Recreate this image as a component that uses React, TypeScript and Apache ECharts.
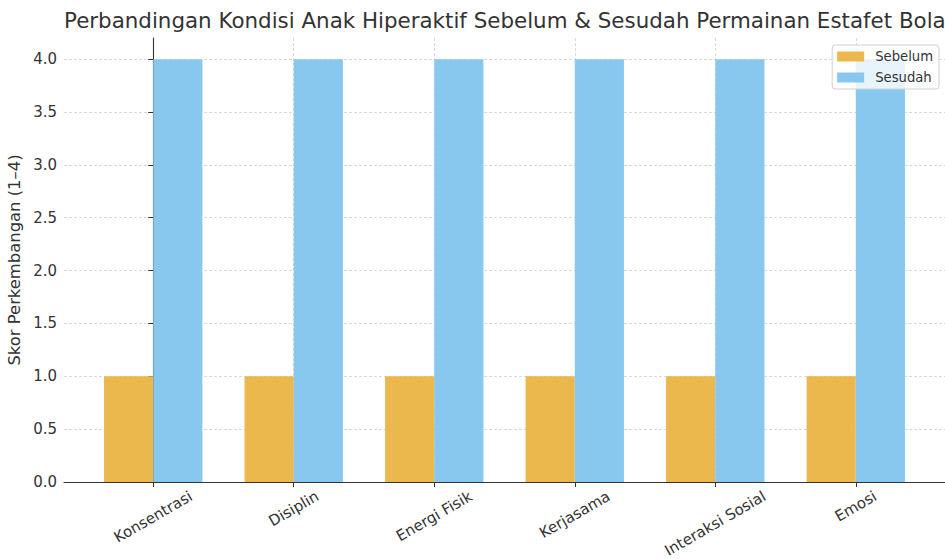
import React, { useEffect, useRef } from "react";
import * as echarts from "echarts";

const categories = ["Konsentrasi", "Disiplin", "Energi Fisik", "Kerjasama", "Interaksi Sosial", "Emosi"];
const sebelum = [1, 1, 1, 1, 1, 1];
const sesudah = [4, 4, 4, 4, 4, 4];
const yTicks = [0, 0.5, 1, 1.5, 2, 2.5, 3, 3.5, 4];
const seriesNames = ["Sebelum", "Sesudah"];
const titleText = "Perbandingan Kondisi Anak Hiperaktif Sebelum & Sesudah Permainan Estafet Bola";
const yAxisName = "Skor Perkembangan (1–4)";

const FONT = "DejaVu Sans";
const LABEL_SIZE = 15;

function measure(text: string, size: number): number {
  const c = document.createElement("canvas");
  const ctx = c.getContext("2d");
  if (!ctx) return text.length * size * 0.6;
  ctx.font = `${size}px "${FONT}"`;
  return ctx.measureText(text).width;
}

export default function App() {
  const ref = useRef<HTMLDivElement>(null);
  useEffect(() => {
    if (!ref.current) return;
    const chart = echarts.init(ref.current, null, { renderer: "svg" });
    const xTickValues = categories.map((_, i) => i);
    const rich: Record<string, any> = {};
    categories.forEach((c, i) => {
      const d = measure(c, LABEL_SIZE) / 4;
      rich["l" + i] = {
        fontSize: LABEL_SIZE,
        fontFamily: FONT,
        color: "#333",
        padding: [1.732 * d, d, 0, 0],
      };
    });
    const gridLine = { show: true, lineStyle: { color: "#cfcfcf", type: [3, 2], width: 0.8 } };
    chart.setOption({
      animation: false,
      textStyle: { fontFamily: FONT },
      title: {
        text: titleText,
        left: 59,
        top: 5,
        textStyle: { fontFamily: FONT, fontSize: 21.4, fontWeight: "normal", color: "#333" },
      },
      legend: {
        data: seriesNames,
        orient: "vertical",
        right: 6,
        top: 45,
        icon: "rect",
        itemWidth: 27,
        itemHeight: 10,
        itemGap: 8,
        padding: [5, 6, 5, 5],
        backgroundColor: "rgba(255,255,255,0.8)",
        borderColor: "#d0d0d0",
        borderWidth: 1,
        borderRadius: 3,
        textStyle: { fontFamily: FONT, fontSize: 13.2, color: "#333", padding: [0, 0, 0, 6] },
      },
      grid: { left: 64, right: 0, top: 38, bottom: 77, outerBoundsMode: "none" },
      xAxis: {
        type: "value",
        min: -0.635,
        max: 5.635,
        axisLine: { show: true, onZero: false, lineStyle: { color: "#333", width: 1.1 } },
        axisTick: { show: true, length: 5, customValues: xTickValues, lineStyle: { color: "#333" } },
        axisLabel: {
          customValues: xTickValues,
          rotate: 30,
          align: "center",
          verticalAlign: "middle",
          margin: 13,
          formatter: (v: number) => {
            const i = Math.round(v);
            return `{l${i}|${categories[i]}}`;
          },
          rich,
        },
        splitLine: gridLine,
      },
      yAxis: {
        type: "value",
        min: 0,
        max: 4.2,
        name: yAxisName,
        nameLocation: "middle",
        nameGap: 35,
        nameRotate: 90,
        nameTextStyle: { fontFamily: FONT, fontSize: 16.4, color: "#333" },
        axisLine: { show: true, lineStyle: { color: "#333", width: 1.1 } },
        axisTick: { show: true, length: 5, customValues: yTicks, lineStyle: { color: "#333" } },
        axisLabel: {
          customValues: yTicks,
          margin: 7,
          fontFamily: FONT,
          fontSize: LABEL_SIZE,
          color: "#333",
          formatter: (v: number) => v.toFixed(1),
        },
        splitLine: gridLine,
      },
      series: [
        {
          name: seriesNames[0],
          type: "bar",
          data: sebelum.map((v, i) => [i, v]),
          barWidth: "35%",
          barGap: "0%",
          itemStyle: { color: "#EAB84C" },
        },
        {
          name: seriesNames[1],
          type: "bar",
          data: sesudah.map((v, i) => [i, v]),
          barWidth: "35%",
          barGap: "0%",
          itemStyle: { color: "#89C8EE" },
        },
      ],
    });
    return () => chart.dispose();
  }, []);
  return (
    <div
      ref={ref}
      style={{ position: "fixed", left: 0, top: 0, width: 945, height: 559, background: "#fff" }}
    />
  );
}
